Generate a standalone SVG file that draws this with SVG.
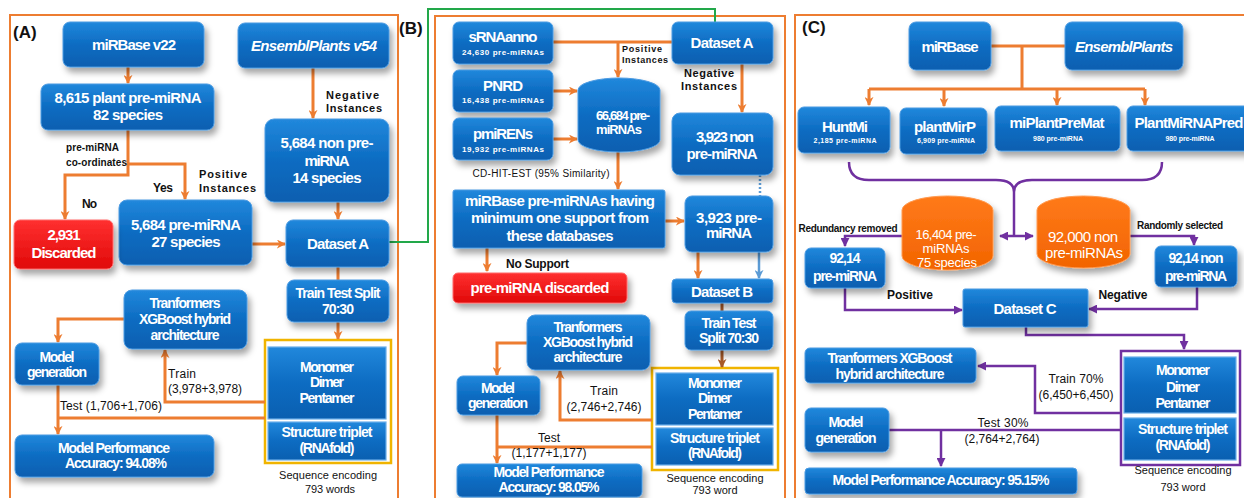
<svg xmlns="http://www.w3.org/2000/svg" width="1244" height="498" viewBox="0 0 1244 498">
<defs>
<linearGradient id="gb" x1="0" y1="0" x2="0" y2="1">
<stop offset="0" stop-color="#2188dc"/><stop offset="0.5" stop-color="#0d6cc2"/><stop offset="1" stop-color="#0a5fb0"/>
</linearGradient>
<linearGradient id="gr" x1="0" y1="0" x2="0" y2="1">
<stop offset="0" stop-color="#ff3030"/><stop offset="1" stop-color="#e00808"/>
</linearGradient>
<linearGradient id="go" x1="0" y1="0" x2="0" y2="1">
<stop offset="0" stop-color="#ff7a1a"/><stop offset="1" stop-color="#f26400"/>
</linearGradient>
<filter id="sh" x="-20%" y="-20%" width="150%" height="170%">
<feDropShadow dx="3" dy="5" stdDeviation="3" flood-color="#000" flood-opacity="0.35"/>
</filter>
<marker id="ao" viewBox="0 0 10 10" refX="9" refY="5" markerWidth="9" markerHeight="9" markerUnits="userSpaceOnUse" orient="auto">
<path d="M0,0 L10,5 L0,10 L3,5 z" fill="#ed7d31"/>
</marker>
<marker id="ab" viewBox="0 0 10 10" refX="9" refY="5" markerWidth="9" markerHeight="9" markerUnits="userSpaceOnUse" orient="auto">
<path d="M0,0 L10,5 L0,10 L3,5 z" fill="#a85a28"/>
</marker>
<marker id="al" viewBox="0 0 10 10" refX="9" refY="5" markerWidth="9" markerHeight="9" markerUnits="userSpaceOnUse" orient="auto">
<path d="M0,0 L10,5 L0,10 L3,5 z" fill="#5b9bd5"/>
</marker>
<marker id="ap" viewBox="0 0 10 10" refX="9" refY="5" markerWidth="9" markerHeight="9" markerUnits="userSpaceOnUse" orient="auto-start-reverse">
<path d="M0,0 L10,5 L0,10 z" fill="#7030a0"/>
</marker>
</defs>
<style>
.frame{fill:none;stroke:#ed7d31;stroke-width:2}
.box{fill:url(#gb);stroke:#4d9be2;stroke-width:1;filter:url(#sh)}
.sq{fill:url(#gb);stroke:#6aaeea;stroke-width:1.2}
.red{fill:url(#gr);stroke:#ff6a6a;stroke-width:1;filter:url(#sh)}
.cylb{fill:url(#gb);stroke:#4d9be2;stroke-width:1;filter:url(#sh)}
.cylo{fill:url(#go);stroke:#ff9a50;stroke-width:1;filter:url(#sh)}
text{font-family:"Liberation Sans",Arial,sans-serif}
.t{fill:#fff;font-weight:bold;font-size:15px;text-anchor:middle}
.tm{fill:#fff;font-weight:bold;font-size:14px;text-anchor:middle}
.tc{fill:#fff;font-size:13px;text-anchor:middle}
.ts{fill:#fff;font-weight:bold;font-size:8px;text-anchor:middle}
.ti{fill:#fff;font-weight:bold;font-style:italic;font-size:15px;text-anchor:middle}
.lb{fill:#111;font-weight:bold;font-size:11px}
.ln{fill:#111;font-size:12px}
.hd{fill:#111;font-weight:bold;font-size:17px}
.co{fill:none;stroke:#ed7d31;stroke-width:3}
.cb{fill:none;stroke:#a85a28;stroke-width:3}
.cp{fill:none;stroke:#7030a0;stroke-width:2.5}
.cg{fill:none;stroke:#22a84a;stroke-width:2}
</style>

<!-- frames -->
<g id="frames">
<rect class="frame" x="10" y="15" width="388" height="490"/>
<rect class="frame" x="435" y="16" width="350" height="490"/>
<rect class="frame" x="795" y="15" width="460" height="490"/>
<rect x="265" y="340" width="126" height="123" fill="none" stroke="#f0b400" stroke-width="2.5"/>
<rect x="652" y="368" width="126" height="102" fill="none" stroke="#f0b400" stroke-width="2.5"/>
<rect x="1121" y="351" width="119" height="114" fill="none" stroke="#7030a0" stroke-width="2.5"/>
<text class="hd" x="13" y="38">(A)</text>
<text class="hd" x="399" y="34">(B)</text>
<text class="hd" x="802" y="33">(C)</text>
</g>

<!-- connectors -->
<g id="connectors">
<path class="cg" d="M389,242 H428 V9 H715 V22"/>
<!-- A -->
<path class="co" d="M128,67 V83" marker-end="url(#ao)"/>
<path class="co" d="M313,68 V118" marker-end="url(#ao)"/>
<path class="co" d="M128,130 V175 H65 V219" marker-end="url(#ao)"/>
<path class="co" d="M128,164 H185 V199" marker-end="url(#ao)"/>
<path class="co" d="M338,202 V219" marker-end="url(#ao)"/>
<path class="co" d="M252,244 H285" marker-end="url(#ao)"/>
<path class="co" d="M338,267 V280"/>
<path class="co" d="M338,322 V339" marker-end="url(#ao)"/>
<path class="co" d="M124,319 H58 V342" marker-end="url(#ao)"/>
<path class="co" d="M265,402 H165 V350" marker-end="url(#ao)"/>
<path class="co" d="M265,418 H58"/>
<path class="co" d="M58,385 V434" marker-end="url(#ao)"/>
<!-- B -->
<path class="co" d="M553,42 H672"/>
<path class="co" d="M618,42 V77" marker-end="url(#ao)"/>
<path class="co" d="M553,91 H577" marker-end="url(#ao)"/>
<path class="co" d="M553,139 H577" marker-end="url(#ao)"/>
<path class="co" d="M742,64 V112" marker-end="url(#ao)"/>
<path class="co" d="M618,152 V189" marker-end="url(#ao)"/>
<path class="co" d="M665,221 H684" marker-end="url(#ao)"/>
<path class="co" d="M487,248 V271" marker-end="url(#ao)"/>
<path class="co" d="M698,252 V278" marker-end="url(#ao)"/>
<path d="M760,175 V196" fill="none" stroke="#5b9bd5" stroke-width="2.5" stroke-dasharray="2,2"/>
<path d="M759,252 V278" fill="none" stroke="#5b9bd5" stroke-width="2.5" marker-end="url(#al)"/>
<path class="cb" d="M722,303 V311"/>
<path class="cb" d="M722,350 V367" marker-end="url(#ab)"/>
<path class="co" d="M527,343 H497 V375" marker-end="url(#ao)"/>
<path class="co" d="M652,420 H560 V371" marker-end="url(#ao)"/>
<path class="co" d="M652,447 H497"/>
<path class="co" d="M497,415 V463" marker-end="url(#ao)"/>
<!-- C -->
<path class="co" d="M991,46 H1065 M1022,46 V89 M869,89 H1145" />
<path class="co" d="M869,89 V105" marker-end="url(#ao)"/>
<path class="co" d="M944,89 V106" marker-end="url(#ao)"/>
<path class="co" d="M1057,89 V105" marker-end="url(#ao)"/>
<path class="co" d="M1145,89 V105" marker-end="url(#ao)"/>
<path class="cp" d="M849,162 Q849,180 869,180 H996 Q1014,180 1014,192 Q1014,180 1032,180 H1142 Q1162,180 1162,162"/>
<path class="cp" d="M1014,192 V236"/>
<path class="cp" d="M1000,236 H1033" marker-start="url(#ap)" marker-end="url(#ap)"/>
<path class="cp" d="M902,236 H845 V246" marker-end="url(#ap)"/>
<path class="cp" d="M1130,236 H1194 V245" marker-end="url(#ap)"/>
<path class="cp" d="M845,288 V310 H962" marker-end="url(#ap)"/>
<path class="cp" d="M1197,287 V309 H1089" marker-end="url(#ap)"/>
<path class="cp" d="M1026,327 V335 H1184 V349" marker-end="url(#ap)"/>
<path class="cp" d="M1121,413 H1035 V366 H978" marker-end="url(#ap)"/>
<path class="cp" d="M889,430 H1121"/>
<path class="cp" d="M941,430 V466" marker-end="url(#ap)"/>
</g>

<!-- connector labels -->
<g id="labels">
<text class="lb" x="66" y="151" textLength="53" style="font-size:10px">pre-miRNA</text>
<text class="lb" x="66" y="166" textLength="61" style="font-size:10px">co-ordinates</text>
<text class="lb" x="153" y="192" textLength="20" style="font-size:12px">Yes</text>
<text class="lb" x="199" y="178" textLength="48">Positive</text>
<text class="lb" x="199" y="192" textLength="57">Instances</text>
<text class="lb" x="326" y="99" textLength="53">Negative</text>
<text class="lb" x="326" y="112" textLength="56">Instances</text>
<text class="lb" x="82" y="208" textLength="15" style="font-size:12px">No</text>
<text class="ln" x="168" y="378" textLength="28">Train</text>
<text class="ln" x="168" y="393" textLength="74">(3,978+3,978)</text>
<text class="ln" x="60" y="410" textLength="102">Test (1,706+1,706)</text>
<text class="ln" x="328" y="479" text-anchor="middle" textLength="98" style="font-size:11px">Sequence encoding</text>
<text class="ln" x="330" y="493" text-anchor="middle" textLength="50" style="font-size:11px">793 words</text>

<text class="lb" x="622" y="52" textLength="40" style="font-size:9px">Positive</text>
<text class="lb" x="622" y="63" textLength="46" style="font-size:9px">Instances</text>
<text class="lb" x="684" y="77" textLength="50">Negative</text>
<text class="lb" x="681" y="90" textLength="56">Instances</text>
<text class="ln" x="541" y="177" text-anchor="middle" textLength="137" style="font-size:10px">CD-HIT-EST (95% Similarity)</text>
<text class="lb" x="506" y="268" textLength="63" style="font-size:12px">No Support</text>
<text class="ln" x="604" y="395" text-anchor="middle" textLength="28">Train</text>
<text class="ln" x="604" y="411" text-anchor="middle" textLength="75">(2,746+2,746)</text>
<text class="ln" x="549" y="442" text-anchor="middle" textLength="22">Test</text>
<text class="ln" x="549" y="457" text-anchor="middle" textLength="75">(1,177+1,177)</text>
<text class="ln" x="715" y="482" text-anchor="middle" textLength="97" style="font-size:11px">Sequence encoding</text>
<text class="ln" x="715" y="494" text-anchor="middle" textLength="45" style="font-size:11px">793 word</text>

<text class="lb" x="848" y="232" text-anchor="middle" textLength="99" style="font-size:10px">Redundancy removed</text>
<text class="lb" x="1180" y="229" text-anchor="middle" textLength="86" style="font-size:10px">Randomly selected</text>
<text class="lb" x="910" y="299" text-anchor="middle" textLength="46" style="font-size:12px">Positive</text>
<text class="lb" x="1123" y="299" text-anchor="middle" textLength="49" style="font-size:12px">Negative</text>
<text class="ln" x="1076" y="383" text-anchor="middle" textLength="55">Train 70%</text>
<text class="ln" x="1076" y="399" text-anchor="middle" textLength="75">(6,450+6,450)</text>
<text class="ln" x="1003" y="427" text-anchor="middle" textLength="51">Test 30%</text>
<text class="ln" x="1002" y="443" text-anchor="middle" textLength="75">(2,764+2,764)</text>
<text class="ln" x="1183" y="474" text-anchor="middle" textLength="97" style="font-size:11px">Sequence encoding</text>
<text class="ln" x="1183" y="491" text-anchor="middle" textLength="45" style="font-size:11px">793 word</text>
</g>

<!-- Panel A nodes -->
<g id="a-mirbase"><rect class="box" x="63" y="22" width="141" height="45" rx="7"/><text class="t" x="134" y="50" textLength="84">miRBase v22</text></g>
<g id="a-ensembl"><rect class="box" x="238" y="23" width="151" height="45" rx="7"/><text class="ti" x="314" y="51" textLength="126">EnsemblPlants v54</text></g>
<g id="a-8615"><rect class="box" x="41" y="84" width="173" height="46" rx="7"/><text class="t" x="128" y="103" textLength="147">8,615 plant pre-miRNA</text><text class="t" x="128" y="120" textLength="70">82 species</text></g>
<g id="a-nonpre"><rect class="box" x="265" y="119" width="124" height="83" rx="9"/><text class="t" x="327" y="148" textLength="93">5,684 non pre-</text><text class="t" x="327" y="166" textLength="45">miRNA</text><text class="t" x="327" y="183" textLength="69">14 species</text></g>
<g id="a-pre"><rect class="box" x="119" y="200" width="133" height="65" rx="8"/><text class="t" x="186" y="230" textLength="110">5,684 pre-miRNA</text><text class="t" x="186" y="247" textLength="69">27 species</text></g>
<g id="a-discarded"><rect class="red" x="14" y="220" width="99" height="49" rx="6"/><text class="t" x="64" y="240" textLength="33">2,931</text><text class="t" x="64" y="258" textLength="65">Discarded</text></g>
<g id="a-dataset"><rect class="box" x="286" y="220" width="103" height="47" rx="7"/><text class="t" x="338" y="249" textLength="62">Dataset A</text></g>
<g id="a-split"><rect class="box" x="287" y="280" width="102" height="42" rx="7"/><text class="tm" x="338" y="298" textLength="85">Train Test Split</text><text class="tm" x="338" y="314" textLength="32">70:30</text></g>
<g id="a-transformer"><rect class="box" x="124" y="290" width="123" height="59" rx="8"/><text class="tm" x="185" y="308" textLength="71">Tranformers</text><text class="tm" x="185" y="324" textLength="92">XGBoost hybrid</text><text class="tm" x="185" y="340" textLength="69">architecture</text></g>
<g id="a-modelgen"><rect class="box" x="15" y="343" width="84" height="42" rx="7"/><text class="tm" x="57" y="362" textLength="35">Model</text><text class="tm" x="57" y="377" textLength="60">generation</text></g>
<g id="a-perf"><rect class="box" x="15" y="435" width="199" height="42" rx="7"/><text class="tm" x="114" y="453" textLength="112">Model Performance</text><text class="tm" x="116" y="468" textLength="102">Accuracy: 94.08%</text></g>
<g id="a-monomer"><rect class="sq" x="268" y="347" width="118" height="72"/><text class="tm" x="327" y="372" textLength="54">Monomer</text><text class="tm" x="327" y="387" textLength="34">Dimer</text><text class="tm" x="327" y="403" textLength="55">Pentamer</text></g>
<g id="a-structure"><rect class="sq" x="268" y="422" width="118" height="38"/><text class="tm" x="327" y="437" textLength="91">Structure triplet</text><text class="tm" x="327" y="453" textLength="55">(RNAfold)</text></g>

<!-- Panel B nodes -->
<g id="b-srnaanno"><rect class="box" x="453" y="22" width="100" height="42" rx="6"/><text class="t" x="503" y="42" textLength="69">sRNAanno</text><text class="ts" x="503" y="55" textLength="82">24,630 pre-miRNAs</text></g>
<g id="b-pnrd"><rect class="box" x="453" y="70" width="100" height="42" rx="6"/><text class="t" x="503" y="91" textLength="40">PNRD</text><text class="ts" x="503" y="103" textLength="82">16,438 pre-miRNAs</text></g>
<g id="b-pmirens"><rect class="box" x="453" y="118" width="100" height="42" rx="6"/><text class="t" x="503" y="139" textLength="60">pmiRENs</text><text class="ts" x="503" y="152" textLength="82">19,932 pre-miRNAs</text></g>
<g id="b-cyl"><path class="cylb" d="M578,90 A41,12 0 0 1 660,90 V140 A41,12 0 0 1 578,140 Z"/><text class="tm" x="623" y="120" textLength="54" style="font-size:13px">66,684 pre-</text><text class="tm" x="619" y="134" textLength="46" style="font-size:13px">miRNAs</text></g>
<g id="b-dataseta"><rect class="box" x="672" y="22" width="101" height="42" rx="6"/><text class="t" x="722" y="48" textLength="63">Dataset A</text></g>
<g id="b-nonpre"><rect class="box" x="672" y="113" width="101" height="62" rx="8"/><text class="t" x="725" y="142" textLength="58">3,923 non</text><text class="t" x="722" y="159" textLength="71">pre-miRNA</text></g>
<g id="b-mirbase"><rect class="box" x="453" y="190" width="212" height="58" rx="2"/><text class="t" x="560" y="206" textLength="190">miRBase pre-miRNAs having</text><text class="t" x="560" y="223" textLength="178">minimum one support from</text><text class="t" x="560" y="241" textLength="107">these databases</text></g>
<g id="b-pre"><rect class="box" x="685" y="196" width="88" height="56" rx="7"/><text class="t" x="729" y="223" textLength="66">3,923 pre-</text><text class="t" x="729" y="238" textLength="46">miRNA</text></g>
<g id="b-discarded"><rect class="red" x="453" y="273" width="174" height="30" rx="5"/><text class="t" x="540" y="293" textLength="139">pre-miRNA discarded</text></g>
<g id="b-datasetb"><rect class="box" x="672" y="279" width="101" height="24" rx="4"/><text class="t" x="722" y="297" textLength="62">Dataset B</text></g>
<g id="b-split"><rect class="box" x="685" y="311" width="88" height="39" rx="6"/><text class="tm" x="729" y="328" textLength="55">Train Test</text><text class="tm" x="729" y="343" textLength="60">Split 70:30</text></g>
<g id="b-transformer"><rect class="box" x="527" y="315" width="123" height="55" rx="8"/><text class="tm" x="588" y="332" textLength="69">Tranformers</text><text class="tm" x="588" y="347" textLength="90">XGBoost hybrid</text><text class="tm" x="588" y="362" textLength="69">architecture</text></g>
<g id="b-modelgen"><rect class="box" x="457" y="376" width="83" height="39" rx="6"/><text class="tm" x="498" y="393" textLength="34">Model</text><text class="tm" x="498" y="408" textLength="60">generation</text></g>
<g id="b-perf"><rect class="box" x="457" y="464" width="185" height="33" rx="5"/><text class="tm" x="549" y="477" textLength="111">Model Performance</text><text class="tm" x="549" y="492" textLength="101">Accuracy: 98.05%</text></g>
<g id="b-monomer"><rect class="sq" x="656" y="373" width="117" height="52"/><text class="tm" x="715" y="388" textLength="54">Monomer</text><text class="tm" x="715" y="403" textLength="34">Dimer</text><text class="tm" x="715" y="419" textLength="54">Pentamer</text></g>
<g id="b-structure"><rect class="sq" x="656" y="428" width="117" height="37"/><text class="tm" x="715" y="443" textLength="90">Structure triplet</text><text class="tm" x="715" y="458" textLength="54">(RNAfold)</text></g>

<!-- Panel C nodes -->
<g id="c-mirbase"><rect class="box" x="909" y="22" width="82" height="48" rx="7"/><text class="t" x="950" y="52" textLength="57">miRBase</text></g>
<g id="c-ensembl"><rect class="box" x="1065" y="22" width="118" height="48" rx="7"/><text class="ti" x="1124" y="52" textLength="98">EnsemblPlants</text></g>
<g id="c-huntmi"><rect class="box" x="798" y="107" width="92" height="46" rx="6"/><text class="t" x="845" y="132" textLength="46">HuntMi</text><text class="ts" x="845" y="143" textLength="63" style="font-size:7px">2,185 pre-miRNA</text></g>
<g id="c-plantmirp"><rect class="box" x="900" y="108" width="87" height="46" rx="6"/><text class="t" x="945" y="132" textLength="62">plantMirP</text><text class="ts" x="946" y="143" textLength="58" style="font-size:7px">6,909 pre-miRNA</text></g>
<g id="c-miplant"><rect class="box" x="995" y="106" width="125" height="45" rx="6"/><text class="t" x="1057" y="128" textLength="95">miPlantPreMat</text><text class="ts" x="1058" y="141" textLength="50" style="font-size:7px">980 pre-miRNA</text></g>
<g id="c-plantmirna"><rect class="box" x="1127" y="106" width="125" height="45" rx="6"/><text class="t" x="1189" y="128" textLength="109">PlantMiRNAPred</text><text class="ts" x="1190" y="141" textLength="49" style="font-size:7px">980 pre-miRNA</text></g>
<g id="c-cyl1"><path class="cylo" d="M902,210 A45.5,14 0 0 1 993,210 V256 A45.5,14 0 0 1 902,256 Z"/><text class="tc" x="946" y="239" textLength="61">16,404 pre-</text><text class="tc" x="946" y="253" textLength="47">miRNAs</text><text class="tc" x="947" y="267" textLength="60">75 species</text></g>
<g id="c-cyl2"><path class="cylo" d="M1037,210 A46.5,14 0 0 1 1130,210 V254 A46.5,14 0 0 1 1037,254 Z"/><text class="tc" x="1083" y="242" textLength="70" style="font-size:15px">92,000 non</text><text class="tc" x="1084" y="258" textLength="78" style="font-size:15px">pre-miRNAs</text></g>
<g id="c-pre"><rect class="box" x="805" y="248" width="80" height="40" rx="6"/><text class="tm" x="845" y="263" textLength="31">92,14</text><text class="tm" x="845" y="281" textLength="64">pre-miRNA</text></g>
<g id="c-nonpre"><rect class="box" x="1155" y="246" width="82" height="41" rx="6"/><text class="tm" x="1196" y="263" textLength="55">92,14 non</text><text class="tm" x="1196" y="281" textLength="62">pre-miRNA</text></g>
<g id="c-dataset"><rect class="box" x="963" y="289" width="125" height="38" rx="2"/><text class="t" x="1025" y="314" textLength="63">Dataset C</text></g>
<g id="c-transformer"><rect class="box" x="805" y="348" width="171" height="35" rx="5"/><text class="tm" x="890" y="363" textLength="125">Tranformers XGBoost</text><text class="tm" x="890" y="379" textLength="109">hybrid architecture</text></g>
<g id="c-modelgen"><rect class="box" x="805" y="408" width="84" height="44" rx="6"/><text class="tm" x="846" y="427" textLength="35">Model</text><text class="tm" x="846" y="443" textLength="61">generation</text></g>
<g id="c-perf"><rect class="box" x="805" y="468" width="272" height="26" rx="4"/><text class="tm" x="941" y="485" textLength="217">Model Performance Accuracy: 95.15%</text></g>
<g id="c-monomer"><rect class="sq" x="1124" y="357" width="112" height="56"/><text class="tm" x="1183" y="375" textLength="54">Monomer</text><text class="tm" x="1183" y="392" textLength="34">Dimer</text><text class="tm" x="1183" y="408" textLength="55">Pentamer</text></g>
<g id="c-structure"><rect class="sq" x="1124" y="418" width="112" height="42"/><text class="tm" x="1183" y="434" textLength="90">Structure triplet</text><text class="tm" x="1183" y="450" textLength="55">(RNAfold)</text></g>
</svg>
